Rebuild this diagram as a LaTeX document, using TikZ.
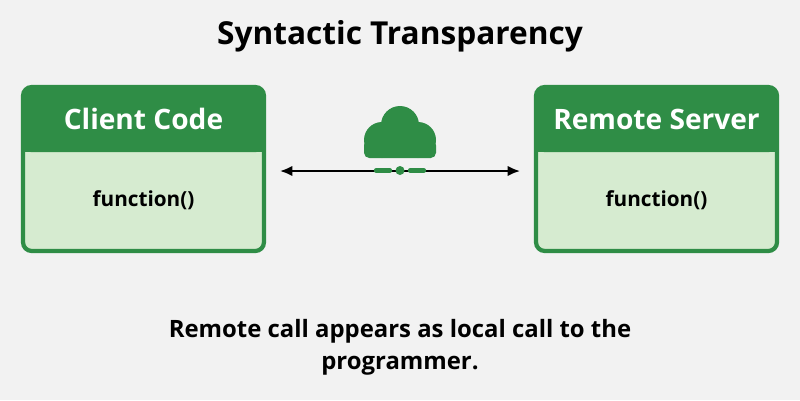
\documentclass[tikz,border=0pt]{standalone}
\usepackage{fontspec}
\setmainfont{Open Sans}
\usetikzlibrary{positioning,arrows.meta}
\definecolor{gfgreen}{HTML}{2F8D46}
\definecolor{gflight}{HTML}{D6EBD0}
\definecolor{gfbg}{HTML}{F2F2F2}
\newlength{\unitpx}\setlength{\unitpx}{0.02cm}
\tikzset{
  box/.style={draw=gfgreen,line width=2.4pt,fill=gflight,rounded corners=5pt,minimum width=241\unitpx,minimum height=164\unitpx},
  head/.style={text=white,font=\bfseries\fontsize{16}{19}\selectfont},
  fn/.style={font=\bfseries\fontsize{11.8}{14}\selectfont}
}
\begin{document}
\begin{tikzpicture}[x=0.02cm,y=-0.02cm]
        \fill[gfbg] (0,0) rectangle (800,400);
        \node[font=\bfseries\fontsize{18}{22}\selectfont] (title) at (400,36) {Syntactic Transparency};
        % boxes
        \node[box] (client) at (143.5,169) {};
        \node[box] (server) at (656.5,169) {};
        \fill[gfgreen,rounded corners=5pt] (22,86) rectangle (265,152);
        \fill[gfgreen,rounded corners=5pt] (535,86) rectangle (778,152);
        \fill[gfgreen] (22,120) rectangle (265,152);
        \fill[gfgreen] (535,120) rectangle (778,152);
        \node[head] (clienthead) at (143.5,119) {Client Code};
        \node[head] (serverhead) at (656.5,119) {Remote Server};
        \node[fn] (clientfn) at (143.5,200) {function()};
        \node[fn] (serverfn) at (656.5,200) {function()};
        % link
        \coordinate (la) at (280,171);
        \coordinate (ra) at (520,171);
        \draw[line width=1.2pt,{Latex[length=7pt,width=6pt]}-{Latex[length=7pt,width=6pt]}] (la) -- (ra);
        \fill[gfgreen] (382,140) circle (18) (400,125) circle (19) (418,140) circle (18);
        \fill[gfgreen,rounded corners=3pt] (364,140) rectangle (436,158);
        \draw[gfgreen,line width=2.5pt,line cap=round] (376,170.5) -- (390,170.5) (410,170.5) -- (424,170.5);
        \fill[gfgreen] (400,170.5) circle (4.5);
        \node[font=\bfseries\fontsize{13.6}{18}\selectfont,align=center] (note) at (400,347)
            {Remote call appears as local call to the\\programmer.};
\end{tikzpicture}
\end{document}
